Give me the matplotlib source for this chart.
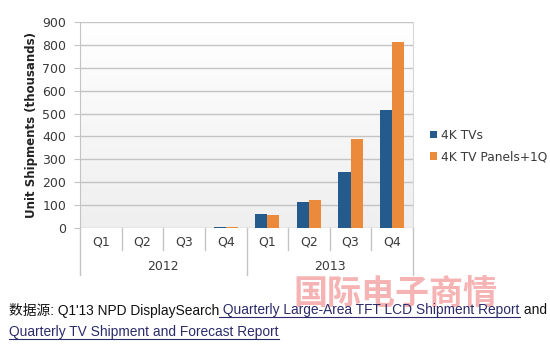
import numpy as np
import matplotlib.pyplot as plt
from matplotlib.colors import LinearSegmentedColormap
from matplotlib.lines import Line2D

plt.rcParams["font.family"] = ["DejaVu Sans"]

quarters = ["Q1", "Q2", "Q3", "Q4", "Q1", "Q2", "Q3", "Q4"]
years = ["2012", "2013"]
tvs = [0, 0, 0, 5, 61, 115, 243, 514]
panels = [0, 0, 0, 3, 58, 122, 387, 811]
series_names = ["4K TVs", "4K TV Panels+1Q"]
blue = "#245b8c"
orange = "#ec8a3c"
grid = "#c4c4c4"
txt = "#3a3a3a"

W, H = 550, 351
fig = plt.figure(figsize=(W / 100, H / 100), dpi=100)
L, R, T, B = 80, 413, 22, 228
ax = fig.add_axes([L / W, 1 - B / H, (R - L) / W, (B - T) / H])

# plot area gradient
grad = np.linspace(1, 0, 100).reshape(-1, 1)
ax.imshow(grad, extent=[0, 1, 0, 1], transform=ax.transAxes, aspect="auto",
          cmap=LinearSegmentedColormap.from_list("g", ["#efefef", "#ffffff"]),
          zorder=0)

x = np.arange(len(quarters))
bw = 0.29
ax.bar(x - bw / 2, tvs, bw, color=blue, zorder=3, label=series_names[0])
ax.bar(x + bw / 2, panels, bw, color=orange, zorder=3, label=series_names[1])

ax.set_xlim(-0.5, len(quarters) - 0.5)
ax.set_ylim(0, 900)
ax.set_yticks(range(0, 901, 100))
ax.yaxis.grid(True, color=grid, linewidth=1, zorder=1)
ax.set_axisbelow(True)
ax.tick_params(axis="y", length=4, color=grid, labelsize=9, labelcolor=txt, pad=6)
ax.set_xticks([])
for s in ["top", "bottom"]:
    ax.spines[s].set_visible(False)
ax.spines["left"].set_color(grid)
ax.spines["right"].set_color("#d8d8d8")
fig.text(32 / W, 1 - (T + B) / 2 / H, "Unit Shipments (thousands)", rotation=90,
         fontsize=8.5, fontweight="bold", color="#222222", ha="center",
         va="center")

# category axis
for i, q in enumerate(quarters):
    ax.text(i, -0.035, q, transform=ax.get_xaxis_transform(), ha="center",
            va="top", fontsize=9, color=txt)
for k in range(len(quarters) + 1):
    depth = 47 if k % 4 == 0 else 22
    xf = (L + k * (R - L) / len(quarters)) / W
    fig.add_artist(Line2D([xf, xf], [1 - B / H, 1 - (B + depth) / H],
                          color=grid, linewidth=1))
for j, yr in enumerate(years):
    fig.text((L + (j * 4 + 2) * (R - L) / 8) / W, 1 - 267 / H, yr,
             ha="center", va="center", fontsize=9, color=txt)

ax.legend(loc="center left", bbox_to_anchor=(430 / W, 1 - 146 / H),
          bbox_transform=fig.transFigure, frameon=False, borderpad=0,
          borderaxespad=0, fontsize=8.8, handlelength=0.6, handleheight=0.6,
          handletextpad=0.3, labelspacing=0.7, labelcolor=txt)

# watermark
fig.text(293 / W, 1 - 293 / H, "国际电子商情", fontsize=24.5, fontweight="bold",
         color="#f5a6a6", family=["Noto Sans CJK SC"], va="center", ha="left",
         alpha=0.85)

# source lines with underlined links
fig.canvas.draw()
renderer = fig.canvas.get_renderer()
link = "#2b2b6b"


def chain(pieces, x0, yc):
    xp = x0
    for s, under, fam in pieces:
        t = fig.text(xp / W, 1 - yc / H, s, fontsize=9.9, va="center", ha="left",
                     color=link if under else "#111111", family=fam)
        bb = t.get_window_extent(renderer)
        if under:
            uy = 1 - (yc + 6.5) / H
            fig.add_artist(Line2D([bb.x0 / W, bb.x1 / W], [uy, uy], color=link,
                                  linewidth=0.8))
        xp = bb.x1


sans = ["Liberation Sans", "Noto Sans CJK SC"]
chain([("数据源: Q1'13 NPD DisplaySearch", False, sans),
       (" Quarterly Large-Area TFT LCD Shipment Report", True, sans),
       (" and", False, sans)], 9, 310)
chain([("Quarterly TV Shipment and Forecast Report", True, sans)], 9, 332)

fig.savefig("out.png", dpi=100)
